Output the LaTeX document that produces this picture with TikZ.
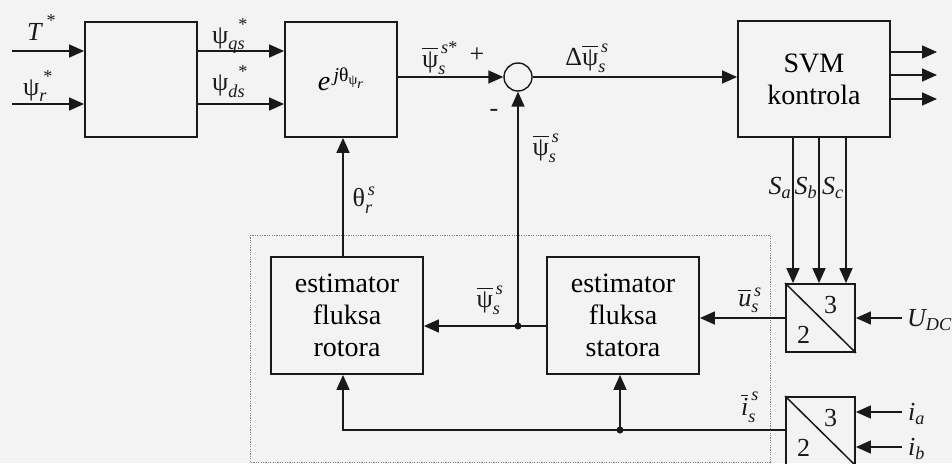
\documentclass[tikz,border=0pt]{standalone}
\usepackage{amsmath}
\usepackage{fontspec}
\setmainfont{Liberation Serif}
\usetikzlibrary{arrows.meta,calc}
\newcommand{\psy}{\text{ψ}}
\newcommand{\ti}[1]{\textit{#1}}
\newcommand{\stt}{\text{\raisebox{3pt}{*}}}
\definecolor{bgc}{RGB}{243,243,243}
\definecolor{ink}{RGB}{25,25,25}
\tikzset{
  blk/.style={draw=ink, line width=1.8pt, inner sep=0pt, align=center, font=\fontsize{28}{32}\selectfont},
  arr/.style={draw=ink, line width=1.5pt, -{Triangle[length=15pt,width=13pt]}},
  ln/.style={draw=ink, line width=1.5pt},
  lab/.style={inner sep=0pt, text=ink, font=\fontsize{26}{30}\selectfont},
  dotbox/.style={draw=gray, line width=0.9pt, dash pattern=on 1.2pt off 1.2pt},
  jdot/.style={fill=ink, circle, inner sep=0pt, minimum size=7pt},
}
\begin{document}
\begin{tikzpicture}[x=1pt,y=-1pt]
\useasboundingbox (0,0) rectangle (952,463);
\clip (0,0) rectangle (952,463);
\fill[bgc] (0,0) rectangle (952,463);
% dotted frame
\draw[dotbox] (250,235) rectangle (770,462);
% blocks
\node[blk, minimum width=112pt, minimum height=115pt] (b1) at (141,79.5) {};
\node[blk, minimum width=112pt, minimum height=115pt] (b2) at (341,79.5) {$\ti{e}^{\,\ti{j}\text{θ}_{\psy_{\ti{r}}}}$};
\node[draw=ink, line width=1.4pt, circle, minimum size=28pt, inner sep=0pt] (sum) at (518,77) {};
\node[blk, minimum width=152pt, minimum height=116pt] (svm) at (814,79) {SVM\\kontrola};
\node[blk, minimum width=152pt, minimum height=117pt] (rot) at (347,315.5) {estimator\\fluksa\\rotora};
\node[blk, minimum width=152pt, minimum height=117pt] (stat) at (623,315.5) {estimator\\fluksa\\statora};
\node[blk, minimum width=69pt, minimum height=68pt] (conv1) at (820.5,318) {};
\node[blk, minimum width=69pt, minimum height=68pt] (conv2) at (820.5,431) {};
\draw[ln] (conv1.north west) -- (conv1.south east);
\draw[ln] (conv2.north west) -- (conv2.south east);
\node[lab] (c13) at ($(conv1.center)+(10,-13)$) {3};
\node[lab] (c12) at ($(conv1.center)+(-17,17)$) {2};
\node[lab] (c23) at ($(conv2.center)+(10,-13)$) {3};
\node[lab] (c22) at ($(conv2.center)+(-17,17)$) {2};
% coordinates
\coordinate (tin) at (12,51);
\coordinate (rin) at (12,104);
\coordinate (o1) at (937,52);
\coordinate (o2) at (937,75);
\coordinate (o3) at (937,99);
\coordinate (sa) at (793,0);
\coordinate (sb) at (819,0);
\coordinate (sc) at (846,0);
\coordinate (j1) at (518,326);
\coordinate (th) at (343,0);
\coordinate (udc) at (902,318);
\coordinate (j2) at (620,430);
\coordinate (ia) at (902,412);
\coordinate (ib) at (902,447);
% connectors
\draw[arr] (tin) -- (tin -| b1.west);
\draw[arr] (rin) -- (rin -| b1.west);
\draw[arr] (b1.east |- tin) -- (b2.west |- tin);
\draw[arr] (b1.east |- rin) -- (b2.west |- rin);
\draw[arr] (b2.east |- sum) -- (sum.west);
\draw[arr] (sum.east) -- (svm.west |- sum);
\draw[arr] (svm.east |- o1) -- (o1);
\draw[arr] (svm.east |- o2) -- (o2);
\draw[arr] (svm.east |- o3) -- (o3);
\draw[arr] (svm.south -| sa) -- (conv1.north -| sa);
\draw[arr] (svm.south -| sb) -- (conv1.north -| sb);
\draw[arr] (svm.south -| sc) -- (conv1.north -| sc);
\draw[arr] (stat.west |- j1) -- (rot.east |- j1);
\draw[arr] (j1) -- (sum.south);
\draw[arr] (rot.north -| th) -- (b2.south -| th);
\draw[arr] (conv1.west) -- (stat.east |- conv1.west);
\draw[arr] (udc) -- (conv1.east);
\draw[ln] (conv2.west |- j2) -- (j2);
\draw[arr] (j2) -- (j2 -| th) -- (rot.south -| th);
\draw[arr] (j2) -- (stat.south -| j2);
\draw[arr] (ia) -- (ia -| conv2.east);
\draw[arr] (ib) -- (ib -| conv2.east);
\node[jdot] (d1) at (j1) {};
\node[jdot] (d2) at (j2) {};
% labels
\node[lab, anchor=base west] (lT) at (27,40) {$\ti{T}^{\kern5pt\stt}$};
\node[lab, anchor=base west] (lpr) at (23,95) {$\psy_{\ti{r}}^{\kern4pt\stt}$};
\node[lab, anchor=base west] (lqs) at (212,43) {$\psy_{\ti{qs}}^{\kern10pt\stt}$};
\node[lab, anchor=base west] (lds) at (212,90) {$\psy_{\ti{ds}}^{\kern10pt\stt}$};
\node[lab] (lref) at (440,58) {$\overline{\psy}_{\ti{s}}^{\,\ti{s}\text{*}}$};
\node[lab] (lplus) at (477,55) {+};
\node[lab] (lminus) at (494,113) {-};
\node[lab] (lfb) at (546,148) {$\overline{\psy}_{\ti{s}}^{\,\ti{s}}$};
\node[lab] (ldelta) at (587,58) {$\text{Δ}\overline{\psy}_{\ti{s}}^{\,\ti{s}}$};
\node[lab] (lth) at (364,200) {$\text{θ}_{\ti{r}}^{\,\ti{s}}$};
\node[lab] (lSa) at (780,188) {$\ti{S}_{\ti{a}}$};
\node[lab] (lSb) at (806,188) {$\ti{S}_{\ti{b}}$};
\node[lab] (lSc) at (833,188) {$\ti{S}_{\ti{c}}$};
\node[lab] (lpsj) at (490,300) {$\overline{\psy}_{\ti{s}}^{\,\ti{s}}$};
\node[lab] (lus) at (750,300) {$\overline{\ti{u}}_{\ti{s}}^{\,\ti{s}}$};
\node[lab] (lis) at (750,407) {$\overline{\ti{i}}_{\ti{s}}^{\,\ti{s}}$};
\node[lab, anchor=west] (lUdc) at (907,320) {$\ti{U}_{\ti{DC}}$};
\node[lab, anchor=west] (lia) at (908,414) {$\ti{i}_{\ti{a}}$};
\node[lab, anchor=west] (lib) at (908,449) {$\ti{i}_{\ti{b}}$};
\end{tikzpicture}
\end{document}
